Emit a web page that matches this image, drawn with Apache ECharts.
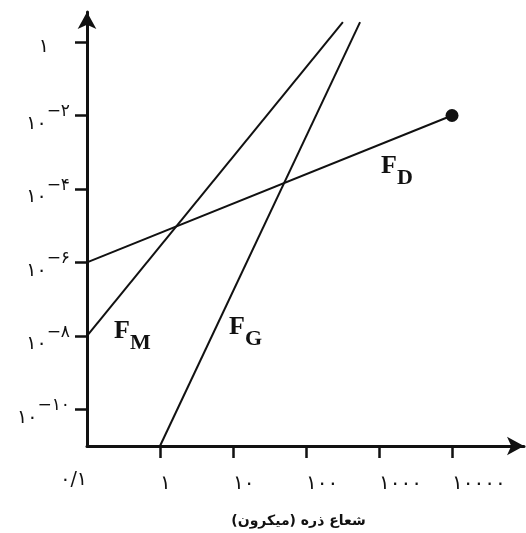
<!DOCTYPE html>
<html>
<head>
<meta charset="utf-8">
<script src="https://cdn.jsdelivr.net/npm/echarts@6.0.0/dist/echarts.min.js"></script>
<style>
  html, body { margin: 0; padding: 0; background: #fff; }
  #main { width: 526px; height: 533px; }
</style>
</head>
<body>
<div id="main"></div>
<script>
// force lines
const fdX = [0.1, 10000];
const fdY = [1e-6, 1e-2];
const fmX = [0.1, 320];
const fmY = [1e-8, 3.5];
const fgX = [1, 550];
const fgY = [1e-11, 3.5];

const xTicks = [1, 10, 100, 1000, 10000];
const xTickLabels = ['۱', '۱۰', '۱۰۰', '۱۰۰۰', '۱۰۰۰۰'];
const yTicks = [1e-10, 1e-8, 1e-6, 1e-4, 1e-2, 1];
const yTickExp = ['−۱۰', '−۸', '−۶', '−۴', '−۲', ''];

const digitFont = 'DejaVu Sans';
const ink = '#111';
const xMax = Math.pow(10, 4.986);
const yMax = Math.pow(10, 0.818);

function idxOf(list, v) {
  for (let i = 0; i < list.length; i++) {
    if (Math.abs(Math.log10(v) - Math.log10(list[i])) < 1e-6) return i;
  }
  return -1;
}

function pairs(xs, ys) {
  return xs.map((x, i) => [x, ys[i]]);
}

function forceLabel(sub) {
  return {
    text: '{f|F}{s|' + sub + '}',
    rich: {
      f: { fontFamily: 'Liberation Serif', fontWeight: 'bold', fontSize: 26, lineHeight: 36, verticalAlign: 'top', fill: ink },
      s: { fontFamily: 'Liberation Serif', fontWeight: 'bold', fontSize: 22, lineHeight: 22, verticalAlign: 'bottom', fill: ink }
    }
  };
}

let chart = echarts.init(document.getElementById('main'));

let fdData = pairs(fdX, fdY);
fdData[fdData.length - 1] = {
  value: fdData[fdData.length - 1],
  symbol: 'circle',
  symbolSize: 13
};

let option = {
  backgroundColor: '#fff',
  animation: false,
  grid: { left: 87, right: 2, top: 12, bottom: 87 },
  xAxis: [{
    type: 'log',
    min: 0.1,
    max: xMax,
    name: 'شعاع ذره (میکرون)\u200F',
    nameLocation: 'middle',
    nameGap: 68,
    nameTextStyle: { fontFamily: digitFont, fontSize: 14, fontWeight: 'bold', color: ink, padding: [0, 14, 0, 0] },
    axisLine: {
      lineStyle: { color: ink, width: 3 },
      symbol: ['none', 'arrow'],
      symbolSize: [14, 17]
    },
    axisTick: { customValues: xTicks, length: 12, lineStyle: { color: ink, width: 2.5 } },
    axisLabel: {
      customValues: xTicks,
      align: 'left',
      margin: 28,
      fontFamily: digitFont,
      fontSize: 20,
      color: ink,
      formatter: v => {
        let i = idxOf(xTicks, v);
        return i < 0 ? '' : xTickLabels[i];
      }
    },
    splitLine: { show: false }
  }, {
    type: 'log',
    min: 0.1,
    max: xMax,
    position: 'bottom',
    axisLine: { show: false },
    axisTick: { show: false },
    splitLine: { show: false },
    axisLabel: {
      customValues: [0.1],
      align: 'right',
      margin: 25,
      fontFamily: digitFont,
      fontSize: 19,
      color: ink,
      formatter: v => '۰/۱'
    }
  }],
  yAxis: {
    type: 'log',
    min: 1e-11,
    max: yMax,
    axisLine: {
      lineStyle: { color: ink, width: 3 },
      symbol: ['none', 'arrow'],
      symbolSize: [14, 17]
    },
    axisTick: { customValues: yTicks, length: 12, lineStyle: { color: ink, width: 2.5 } },
    axisLabel: {
      customValues: yTicks,
      margin: 17,
      padding: [6, 0, 0, 0],
      color: ink,
      formatter: v => {
        let i = idxOf(yTicks, v);
        if (i < 0) return '';
        if (!yTickExp[i]) return '{one|۱}';
        return '{b|۱۰}{s|' + yTickExp[i] + '}';
      },
      rich: {
        b: { fontFamily: digitFont, fontSize: 19, lineHeight: 30, verticalAlign: 'bottom', color: ink },
        s: { fontFamily: digitFont, fontSize: 17, lineHeight: 17, verticalAlign: 'top', color: ink },
        one: { fontFamily: digitFont, fontSize: 19, lineHeight: 19, padding: [4, 21, 0, 0], color: ink }
      }
    },
    splitLine: { show: false }
  },
  series: [{
    name: 'FD',
    type: 'line',
    symbol: 'none',
    data: fdData,
    itemStyle: { color: ink },
    lineStyle: { color: ink, width: 2 }
  }, {
    name: 'FM',
    type: 'line',
    symbol: 'none',
    data: pairs(fmX, fmY),
    lineStyle: { color: ink, width: 2 }
  }, {
    name: 'FG',
    type: 'line',
    symbol: 'none',
    data: pairs(fgX, fgY),
    lineStyle: { color: ink, width: 2 }
  }],
  graphic: [
    { type: 'text', left: 114, top: 318, style: forceLabel('M') },
    { type: 'text', left: 229, top: 314, style: forceLabel('G') },
    { type: 'text', left: 381, top: 153, style: forceLabel('D') }
  ]
};

chart.setOption(option);
</script>
</body>
</html>
